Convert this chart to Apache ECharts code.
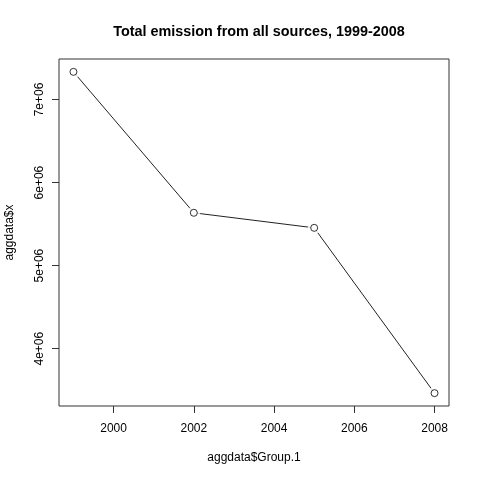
<html>
<head>
  <meta charset="utf-8">
  <title>Total emission</title>
  <script src="https://cdn.jsdelivr.net/npm/echarts@6/dist/echarts.min.js"></script>
  <style>
    html, body { margin: 0; padding: 0; background: #fff; }
    #main { width: 480px; height: 480px; }
  </style>
</head>
<body>
  <div id="main"></div>
  <script>
    // data
    var years = [1999, 2002, 2005, 2008];
    var emissions = [7332967, 5635780, 5454703, 3464206];
    var xTicks = [2000, 2002, 2004, 2006, 2008];
    var yTicks = [4e6, 5e6, 6e6, 7e6];

    // R pads the data range by 4% on each side
    var xPad = (years[years.length - 1] - years[0]) * 0.04;
    var yMin = Math.min.apply(null, emissions), yMax = Math.max.apply(null, emissions);
    var yPad = (yMax - yMin) * 0.04;

    var pts = years.map(function (y, i) { return [y, emissions[i]]; });
    var font = 'Liberation Sans, Arial, sans-serif';

    var chart = echarts.init(document.getElementById('main'));
    chart.setOption({
      animation: false,
      title: {
        text: 'Total emission from all sources, 1999-2008',
        left: 254, top: 20, textAlign: 'center',
        textStyle: { fontFamily: font, fontSize: 14.4, fontWeight: 'bold', color: '#000' }
      },
      grid: {
        left: 59, right: 31, top: 59, bottom: 74,
        outerBoundsMode: 'none',
        show: true, borderColor: '#333', borderWidth: 1
      },
      xAxis: {
        type: 'value',
        min: years[0] - xPad,
        max: years[years.length - 1] + xPad,
        name: 'aggdata$Group.1',
        nameLocation: 'middle',
        nameGap: 46,
        nameTextStyle: { fontFamily: font, fontSize: 12, color: '#000' },
        axisLine: { show: false },
        splitLine: { show: false },
        axisTick: { show: true, customValues: xTicks, length: 7, lineStyle: { color: '#333' } },
        axisLabel: {
          customValues: xTicks, margin: 17,
          fontFamily: font, fontSize: 12, color: '#000',
          formatter: function (v) { return String(v); }
        }
      },
      yAxis: {
        type: 'value',
        min: yMin - yPad,
        max: yMax + yPad,
        name: 'aggdata$x',
        nameLocation: 'middle',
        nameGap: 43,
        nameRotate: 90,
        nameTextStyle: { fontFamily: font, fontSize: 12, color: '#000' },
        axisLine: { show: false },
        splitLine: { show: false },
        axisTick: { show: true, customValues: yTicks, length: 7, lineStyle: { color: '#333' } },
        axisLabel: {
          customValues: yTicks, margin: 13, rotate: 90,
          fontFamily: font, fontSize: 12, color: '#000',
          formatter: function (v) { return (v / 1e6) + 'e+06'; }
        }
      },
      series: [
        {
          type: 'line', data: pts, showSymbol: false, silent: true, z: 1,
          lineStyle: { color: '#222', width: 1 }
        },
        {
          // white mask so the line stops short of each point (type = "b")
          type: 'scatter', data: pts, symbol: 'circle', symbolSize: 13, silent: true, z: 3,
          itemStyle: { color: '#fff', borderWidth: 0 }
        },
        {
          type: 'scatter', data: pts, symbol: 'circle', symbolSize: 7, silent: true, z: 4,
          itemStyle: { color: '#fff', borderColor: '#000', borderWidth: 1 }
        }
      ]
    });
  </script>
</body>
</html>
